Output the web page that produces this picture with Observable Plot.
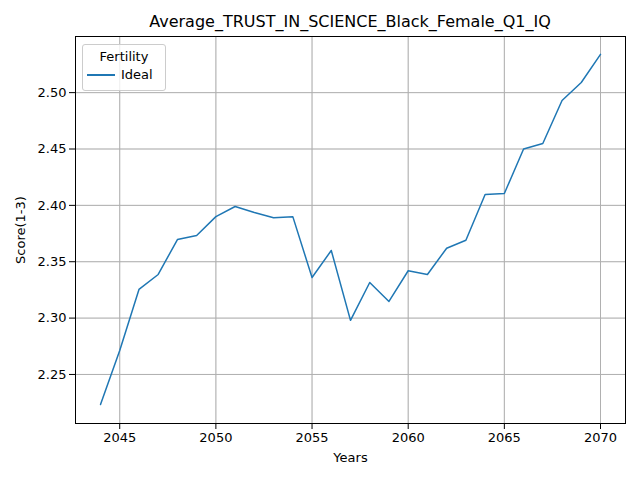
<!DOCTYPE html>
<html>
<head>
<meta charset="utf-8">
<script src="https://cdn.jsdelivr.net/npm/d3@7"></script>
<script src="https://cdn.jsdelivr.net/npm/@observablehq/plot@0.6"></script>
<style>
  body { margin: 0; background: #fff; font-family: "DejaVu Sans", sans-serif; }
  #wrap { position: relative; width: 640px; height: 480px; }
  #title { position: absolute; top: 12px; left: 75px; width: 550px; text-align: center; font-size: 16px; }
  #legend { position: absolute; left: 82px; top: 44px; width: 82px; height: 45px; border: 1px solid #ccc; border-radius: 3px; background: rgba(255,255,255,0.8); font-size: 13px; }
  #legend .h { text-align: center; margin-top: 4px; }
  #legend .r { display: flex; align-items: center; margin: 3px 0 0 4px; }
  #legend .sw { width: 28px; height: 2px; background: #1f77b4; margin-right: 6px; }
</style>
</head>
<body>
<div id="wrap">
  <div id="chart"></div>
  <div id="title">Average_TRUST_IN_SCIENCE_Black_Female_Q1_IQ</div>
  <div id="legend"><div class="h">Fertility</div><div class="r"><div class="sw"></div>Ideal</div></div>
</div>
<script>
const years = d3.range(2044, 2071)
const ideal = [2.2234, 2.2713, 2.3254, 2.3387, 2.3697, 2.3733, 2.390, 2.399, 2.3937, 2.389, 2.390,
  2.336, 2.360, 2.298, 2.3316, 2.3148, 2.342, 2.3387, 2.362, 2.369, 2.4097, 2.4105, 2.450, 2.4549,
  2.493, 2.509, 2.534]
const data = years.map((y, i) => ({year: y, value: ideal[i]}))

let chart = Plot.plot({
  width: 640,
  height: 480,
  marginTop: 36,
  marginBottom: 57,
  marginLeft: 75,
  marginRight: 15,
  style: { fontFamily: "DejaVu Sans", fontSize: 13, color: "#000" },
  x: { domain: [2042.7, 2071.3], ticks: [2045, 2050, 2055, 2060, 2065, 2070], tickFormat: d => String(d), label: "Years", labelAnchor: "center", labelArrow: "none", labelOffset: 38, grid: true },
  y: { domain: [2.2065, 2.5498], ticks: [2.25, 2.3, 2.35, 2.4, 2.45, 2.5], tickFormat: d3.format(".2f"), label: "Score(1-3)", labelAnchor: "center", labelArrow: "none", labelOffset: 60, grid: true },
  marks: [
    Plot.gridX([2045, 2050, 2055, 2060, 2065, 2070], { stroke: "#b0b0b0", strokeOpacity: 1 }),
    Plot.gridY([2.25, 2.3, 2.35, 2.4, 2.45, 2.5], { stroke: "#b0b0b0", strokeOpacity: 1 }),
    Plot.frame({ stroke: "#000" }),
    Plot.lineY(data, { x: "year", y: "value", stroke: "#1f77b4", strokeWidth: 1.5 })
  ]
})
d3.select('#chart').append(() => chart)
</script>
</body>
</html>
